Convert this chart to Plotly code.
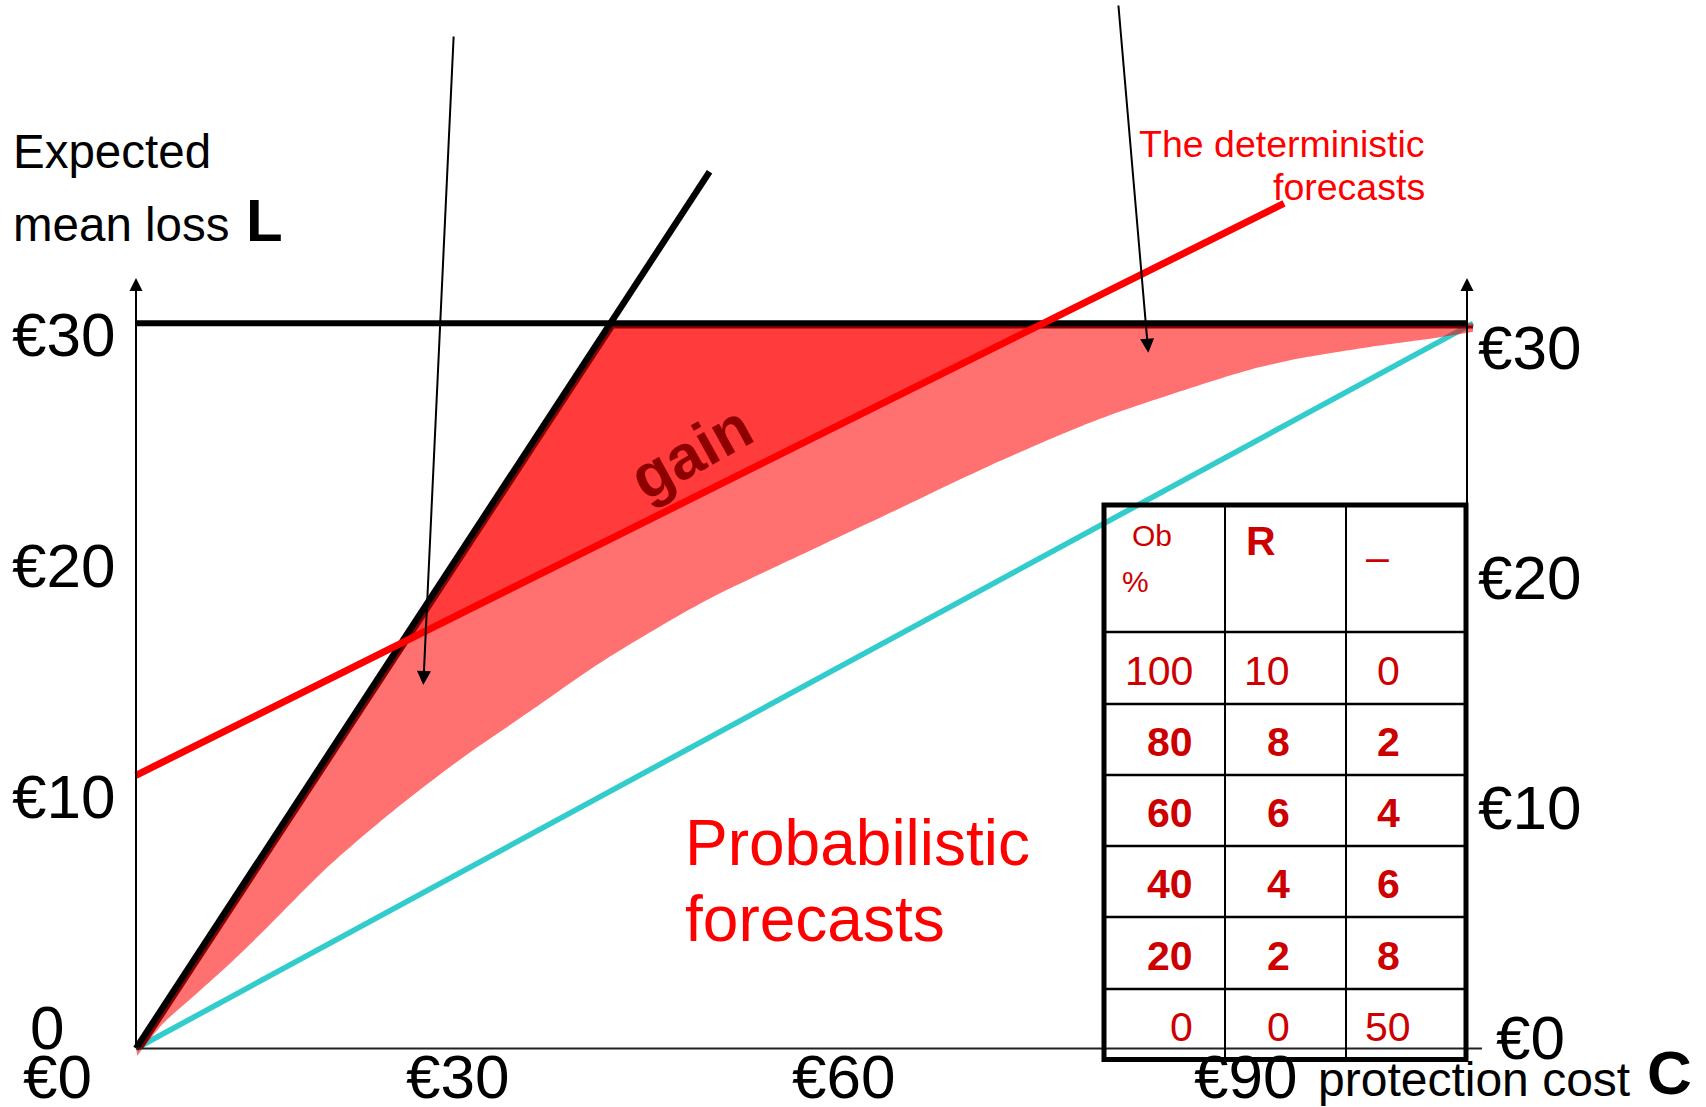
import plotly.graph_objects as go

W, H = 1706, 1107
FONT = "Liberation Sans, Arial, sans-serif"

# ---------------- data (euro values) ----------------
# "always protect" line  L = C
always_cost = [0, 43.09]
always_loss = [0, 36.27]
# "never protect" line  L = pL
never_cost = [0, 100]
never_loss = [30, 30]
# deterministic forecasts
det_cost = [0, 86.25]
det_loss = [11.3, 34.96]
# perfect forecasts
perfect_cost = [0, 100.45]
perfect_loss = [0, 30]
# probabilistic forecasts (lower envelope of the shaded band)
prob_cost = [0.1, 2.05, 4.56, 7.06, 9.56, 12.07, 14.58, 19.59, 24.59, 29.60, 34.86,
             42.37, 49.89, 57.40, 64.91, 72.43, 79.94, 83.70, 87.45, 92.46, 97.45, 100.45]
prob_loss = [-0.3, 1.04, 2.28, 3.52, 4.85, 6.25, 7.60, 9.95, 12.05, 13.95, 15.95,
             18.40, 20.40, 22.35, 24.30, 26.05, 27.45, 28.08, 28.55, 29.00, 29.38, 29.65]

# table values
tbl_header = ["Ob", "%", "R", "–"]
ob_pct = [100, 80, 60, 40, 20, 0]
r_vals = [10, 8, 6, 4, 2, 0]
third_vals = [0, 2, 4, 6, 8, 50]
bold_rows = [False, True, True, True, True, False]

# tick labels
left_ticks = ["€30", "€20", "€10"]
right_ticks = ["€30", "€20", "€10", "€0"]
bottom_ticks = ["€0", "€30", "€60", "€90"]

# ---------------- layout geometry (pixels) ----------------
X0_PX, X100_PX = 136, 1467
Y0_PX, Y30_PX = 1048.5, 323.3
sx = (X100_PX - X0_PX) / 100.0
sy = (Y0_PX - Y30_PX) / 30.0
xr = [-X0_PX / sx, (W - X0_PX) / sx]
yr = [-(H - Y0_PX) / sy, Y0_PX / sy]


def px(x):
    return x / W


def py(y):
    return 1 - y / H


# derived geometry from the lines
a_diag = (always_loss[1] - always_loss[0]) / (always_cost[1] - always_cost[0])
c_det = (det_loss[1] - det_loss[0]) / (det_cost[1] - det_cost[0])
b_det = det_loss[0]
top = never_loss[0]
x_top_diag = top / a_diag
x_top_det = (top - b_det) / c_det
x_cross = b_det / (a_diag - c_det)
y_cross = a_diag * x_cross

fig = go.Figure()

# perfect forecasts (cyan)
fig.add_trace(go.Scatter(x=perfect_cost, y=perfect_loss, mode="lines",
                         line=dict(color="#33CCCC", width=5.5), hoverinfo="skip"))

# probabilistic band: upper envelope, then smooth lower envelope filled to it
fig.add_trace(go.Scatter(x=[always_cost[0], x_top_diag, prob_cost[-1]],
                         y=[always_loss[0], top, top], mode="lines",
                         line=dict(width=0, color="rgba(0,0,0,0)"), hoverinfo="skip"))
fig.add_trace(go.Scatter(x=prob_cost, y=prob_loss, mode="lines", fill="tonexty",
                         fillcolor="rgba(255,0,0,0.56)",
                         line=dict(width=0, shape="spline", smoothing=0.8,
                                   color="rgba(0,0,0,0)"),
                         hoverinfo="skip"))

# gain triangle
fig.add_trace(go.Scatter(x=[x_cross, x_top_diag, x_top_det, x_cross],
                         y=[y_cross, top, top, y_cross], mode="lines", fill="toself",
                         fillcolor="rgba(255,0,0,0.47)", line=dict(width=0),
                         hoverinfo="skip"))

# dark red edge inside the band
dx = 5.2 / sx
dy = 3.8 / sy
fig.add_trace(go.Scatter(x=[dx, (top - dy) / a_diag + dx, prob_cost[-1]],
                         y=[0, top - dy, top - dy], mode="lines",
                         line=dict(color="#8B0000", width=3), hoverinfo="skip"))

# black lines
fig.add_trace(go.Scatter(x=always_cost, y=always_loss, mode="lines",
                         line=dict(color="black", width=6.5), hoverinfo="skip"))
fig.add_trace(go.Scatter(x=never_cost, y=never_loss, mode="lines",
                         line=dict(color="black", width=6), hoverinfo="skip"))

# deterministic (red)
fig.add_trace(go.Scatter(x=det_cost, y=det_loss, mode="lines",
                         line=dict(color="#FF0000", width=7), hoverinfo="skip"))

shapes = []
# x axis
shapes.append(dict(type="line", xref="x", yref="y", x0=0, y0=0, x1=(1482 - X0_PX) / sx, y1=0,
                   line=dict(color="#222222", width=2)))

annotations = []
# vertical axes with arrows
y_arrow = (Y0_PX - 278) / sy
for xa in (0, 100):
    annotations.append(dict(x=xa, y=y_arrow, ax=xa, ay=0, xref="x", yref="y", axref="x", ayref="y",
                            showarrow=True, arrowhead=2, arrowsize=1.3, arrowwidth=2,
                            arrowcolor="black", text=""))

# pointer arrows
for (sx0, sy0, tx, ty) in [(453.7, 35, 423.3, 685), (1118.3, 4, 1148.3, 352.7)]:
    annotations.append(dict(x=(tx - X0_PX) / sx, y=(Y0_PX - ty) / sy,
                            ax=(sx0 - X0_PX) / sx, ay=(Y0_PX - sy0) / sy,
                            xref="x", yref="y", axref="x", ayref="y",
                            showarrow=True, arrowhead=2, arrowsize=1.4, arrowwidth=2,
                            arrowcolor="black", text=""))


def txt(text, x, y, size, color="black", xanchor="left", angle=0):
    return dict(text=text, x=px(x), y=py(y), xref="paper", yref="paper",
                xanchor=xanchor, yanchor="middle", showarrow=False,
                textangle=angle, font=dict(family=FONT, size=size, color=color))


# axis title texts
annotations.append(txt("Expected", 11, 151, 47.5))
annotations.append(txt("mean loss", 11, 224, 47.5))
annotations.append(txt("<b>L</b>", 244, 220, 60))
annotations.append(txt("protection cost", 1316, 1079, 48))
annotations.append(txt("<b>C</b>", 1645, 1072, 62))

# tick labels
for lab, yc in zip(left_ticks, [334.5, 565.5, 796.5]):
    annotations.append(txt(lab, 10, yc, 62))
for lab, xc, yc in zip(right_ticks, [1476, 1476, 1476, 1494], [348, 577, 807, 1037]):
    annotations.append(txt(lab, xc, yc, 62))
annotations.append(txt("0", 46.5, 1027, 62, xanchor="center"))
for lab, xc in zip(bottom_ticks, [57, 457.5, 843, 1245]):
    annotations.append(txt(lab, xc, 1076, 62, xanchor="center"))

# in-chart labels
annotations.append(txt("The deterministic", 1427, 143.5, 37.5, color="#FF0000", xanchor="right"))
annotations.append(txt("forecasts", 1427, 187.5, 37.5, color="#FF0000", xanchor="right"))
annotations.append(txt("Probabilistic", 683, 842.5, 64, color="#FF0000"))
annotations.append(txt("forecasts", 683, 918.5, 64, color="#FF0000"))
annotations.append(txt("<b>gain</b>", 690, 452, 62, color="#8E0000", xanchor="center", angle=-29))

# table
TX = [1104, 1225, 1346, 1466]
TY = [505, 632, 704, 775, 846, 917, 989, 1059.5]
TCOL = "#CC0000"
for xv in TX[1:-1]:
    shapes.append(dict(type="line", xref="paper", yref="paper", x0=px(xv), x1=px(xv),
                       y0=py(TY[0]), y1=py(TY[-1]), line=dict(color="black", width=2)))
for yv in TY[1:-1]:
    shapes.append(dict(type="line", xref="paper", yref="paper", x0=px(TX[0]), x1=px(TX[-1]),
                       y0=py(yv), y1=py(yv), line=dict(color="black", width=2.5)))
shapes.append(dict(type="rect", xref="paper", yref="paper", x0=px(TX[0]), x1=px(TX[-1]),
                   y0=py(TY[0]), y1=py(TY[-1]), line=dict(color="black", width=5)))

annotations.append(txt(tbl_header[0], 1130, 535, 30, color=TCOL))
annotations.append(txt(tbl_header[1], 1120, 581, 30, color=TCOL))
annotations.append(txt("<b>" + tbl_header[2] + "</b>", 1244, 541.5, 41, color=TCOL))
annotations.append(txt(tbl_header[3], 1377, 557, 41, color=TCOL, xanchor="center"))

for i in range(len(ob_pct)):
    yc = (TY[i + 1] + TY[i + 2]) / 2 + 2.5
    vals = [ob_pct[i], r_vals[i], third_vals[i]]
    labs = [("<b>%d</b>" % v) if bold_rows[i] else str(v) for v in vals]
    annotations.append(txt(labs[0], 1195, yc, 41, color=TCOL, xanchor="right"))
    annotations.append(txt(labs[1], 1292, yc, 41, color=TCOL, xanchor="right"))
    annotations.append(txt(labs[2], 1388, yc, 41, color=TCOL, xanchor="center"))

fig.update_layout(
    width=W, height=H, autosize=False,
    margin=dict(l=0, r=0, t=0, b=0, pad=0),
    paper_bgcolor="white", plot_bgcolor="white",
    showlegend=False,
    xaxis=dict(range=xr, visible=False, fixedrange=True),
    yaxis=dict(range=yr, visible=False, fixedrange=True),
    shapes=shapes, annotations=annotations,
)

fig.write_html("out.html", config={"displayModeBar": False},
               post_script="document.body.style.margin='0px';document.body.style.overflow='hidden';")
